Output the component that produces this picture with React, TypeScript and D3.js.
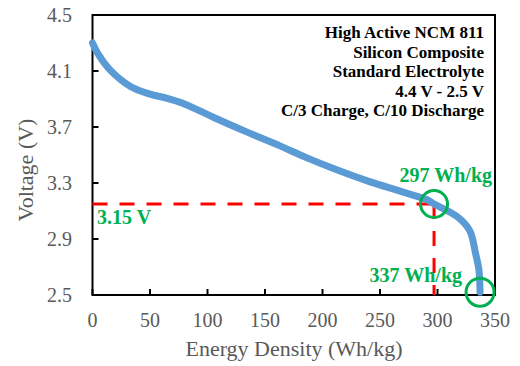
import React from "react";
import * as d3 from "d3";

// discharge curve
const energy = [0, 5, 15, 33, 50, 65, 80, 105, 134, 163, 185, 209, 239, 268, 291, 297, 317, 328, 333, 336, 337];
const voltage = [4.3, 4.22, 4.11, 3.99, 3.935, 3.905, 3.865, 3.77, 3.665, 3.565, 3.485, 3.405, 3.315, 3.24, 3.18, 3.15, 3.06, 2.96, 2.8, 2.68, 2.52];

const xTicks = [0, 50, 100, 150, 200, 250, 300, 350];
const yTicks = [2.5, 2.9, 3.3, 3.7, 4.1, 4.5];

const cutoffV = 3.15;
const cutoffE = 297;
const endE = 337;
const endV = 2.52;

const notes = [
  "High Active NCM 811",
  "Silicon Composite",
  "Standard Electrolyte",
  "4.4 V - 2.5 V",
  "C/3 Charge, C/10 Discharge",
];

const W = 520;
const H = 366;
const m = { left: 92.5, right: 495, top: 15, bottom: 295 };
const font = "'Liberation Serif', 'Times New Roman', serif";
const grey = "#595959";
const green = "#00B050";

export default function App() {
  const x = d3.scaleLinear().domain([0, 350]).range([m.left, m.right]);
  const y = d3.scaleLinear().domain([2.5, 4.5]).range([m.bottom, m.top]);

  const pts = energy.map((e, i) => [e, voltage[i]] as [number, number]);
  const line = d3
    .line<[number, number]>()
    .x((d) => x(d[0]))
    .y((d) => y(d[1]))
    .curve(d3.curveCatmullRom.alpha(0.5));

  return (
    <svg
      width={W}
      height={H}
      style={{ position: "absolute", left: 0, top: 0, background: "#fff" }}
      fontFamily={font}
    >
      {/* ticks (inside) */}
      {yTicks.map((t) => (
        <g key={"y" + t}>
          <line x1={m.left} x2={m.left + 6} y1={y(t)} y2={y(t)} stroke="#000" strokeWidth={2} />
          <text x={72} y={y(t)} textAnchor="end" dominantBaseline="central" fontSize={20} fill={grey}>
            {t.toFixed(1)}
          </text>
        </g>
      ))}
      {xTicks.map((t) => (
        <g key={"x" + t}>
          <line x1={x(t)} x2={x(t)} y1={m.bottom} y2={m.bottom - 6} stroke="#000" strokeWidth={2} />
          <text x={x(t)} y={327} textAnchor="middle" fontSize={20} fill={grey}>
            {t}
          </text>
        </g>
      ))}

      {/* frame */}
      <rect
        x={m.left}
        y={m.top}
        width={m.right - m.left}
        height={m.bottom - m.top}
        fill="none"
        stroke="#000"
        strokeWidth={2}
      />

      {/* cut-off guide lines */}
      <line
        x1={x(0)}
        x2={x(cutoffE)}
        y1={y(cutoffV)}
        y2={y(cutoffV)}
        stroke="#FF0000"
        strokeWidth={3}
        strokeDasharray="15 12"
      />
      <line
        x1={x(cutoffE)}
        x2={x(cutoffE)}
        y1={y(cutoffV)}
        y2={m.bottom}
        stroke="#FF0000"
        strokeWidth={3}
        strokeDasharray="15 12"
      />

      <path d={line(pts) ?? ""} fill="none" stroke="#5B9BD5" strokeWidth={7} strokeLinecap="round" />

      <circle cx={x(cutoffE)} cy={y(cutoffV)} r={13.5} fill="none" stroke={green} strokeWidth={3} />
      <circle cx={x(endE)} cy={y(endV)} r={14} fill="none" stroke={green} strokeWidth={3} />

      <text x={97} y={y(cutoffV) + 20} fontSize={20} fontWeight="bold" fill={green}>
        3.15 V
      </text>
      <text x={x(cutoffE) + 58} y={182} textAnchor="end" fontSize={20} fontWeight="bold" fill={green}>
        297 Wh/kg
      </text>
      <text x={x(endE) - 18} y={282} textAnchor="end" fontSize={20} fontWeight="bold" fill={green}>
        337 Wh/kg
      </text>

      {notes.map((n, i) => (
        <text key={n} x={484} y={38 + i * 19.6} textAnchor="end" fontSize={17} fontWeight="bold" fill="#000">
          {n}
        </text>
      ))}

      <text x={294} y={356} textAnchor="middle" fontSize={22} fill={grey}>
        Energy Density (Wh/kg)
      </text>
      <text
        transform={`translate(33, 170) rotate(-90)`}
        textAnchor="middle"
        fontSize={22}
        fill={grey}
      >
        Voltage (V)
      </text>
    </svg>
  );
}
